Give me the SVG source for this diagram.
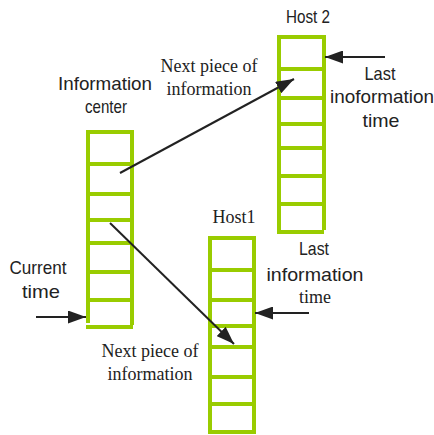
<svg xmlns="http://www.w3.org/2000/svg" width="434" height="435" viewBox="0 0 434 435">
<style>
.stack line{stroke:#99CC00;stroke-width:4;stroke-linecap:butt}
.conn line{stroke:#222;stroke-width:2}
.sans{font-family:"Liberation Sans",Arial,sans-serif;font-size:19px;fill:#222}
.serif{font-family:"Liberation Serif","Times New Roman",serif;font-size:18px;fill:#222}
</style>
<defs>
<marker id="ah" markerUnits="userSpaceOnUse" markerWidth="18" markerHeight="13" refX="18" refY="6.5" orient="auto">
<path d="M0,0 L18,6.5 L0,13 Z" fill="#222"/>
</marker>
</defs>
<rect width="434" height="435" fill="#fff"/>
<g id="info-center" class="stack">
<line x1="88" y1="130" x2="88" y2="323"/>
<line x1="132" y1="130" x2="132" y2="325"/>
<line x1="86" y1="132" x2="134" y2="132"/>
<line x1="86" y1="164" x2="134" y2="164"/>
<line x1="86" y1="194" x2="134" y2="194"/>
<line x1="86" y1="220" x2="134" y2="220"/>
<line x1="86" y1="243" x2="134" y2="243"/>
<line x1="86" y1="272" x2="134" y2="272"/>
<line x1="86" y1="300" x2="134" y2="300"/>
<line x1="86" y1="327" x2="133" y2="327"/>
</g>
<g id="host2" class="stack">
<line x1="279" y1="35" x2="279" y2="230"/>
<line x1="324" y1="35" x2="324" y2="230"/>
<line x1="277" y1="37" x2="326" y2="37"/>
<line x1="277" y1="69" x2="326" y2="69"/>
<line x1="277" y1="98" x2="326" y2="98"/>
<line x1="277" y1="124" x2="326" y2="124"/>
<line x1="277" y1="148" x2="326" y2="148"/>
<line x1="277" y1="176" x2="326" y2="176"/>
<line x1="277" y1="204" x2="326" y2="204"/>
<line x1="277" y1="232" x2="324" y2="232"/>
</g>
<g id="host1" class="stack">
<line x1="210" y1="236" x2="210" y2="434"/>
<line x1="254" y1="236" x2="254" y2="434"/>
<line x1="208" y1="238" x2="256" y2="238"/>
<line x1="208" y1="270" x2="256" y2="270"/>
<line x1="208" y1="300" x2="256" y2="300"/>
<line x1="208" y1="326" x2="256" y2="326"/>
<line x1="208" y1="347" x2="256" y2="347"/>
<line x1="208" y1="377" x2="256" y2="377"/>
<line x1="208" y1="404" x2="256" y2="404"/>
<line x1="208" y1="432" x2="256" y2="432"/>
</g>
<g id="connectors" class="conn">
<line x1="120" y1="173" x2="294" y2="79" marker-end="url(#ah)"/>
<line x1="110" y1="223" x2="234" y2="344" marker-end="url(#ah)"/>
<line x1="385" y1="57" x2="325" y2="57" marker-end="url(#ah)"/>
<line x1="309" y1="313" x2="255" y2="313" marker-end="url(#ah)"/>
<line x1="36" y1="317" x2="86" y2="317" marker-end="url(#ah)"/>
</g>
<g id="labels">
<text class="sans" x="105" y="90" text-anchor="middle" textLength="94" lengthAdjust="spacingAndGlyphs">Information</text>
<text class="sans" x="106" y="113" text-anchor="middle" textLength="42" lengthAdjust="spacingAndGlyphs">center</text>
<text class="sans" x="308" y="23" text-anchor="middle" textLength="44" lengthAdjust="spacingAndGlyphs">Host 2</text>
<text class="sans" x="380" y="80" text-anchor="middle" textLength="31" lengthAdjust="spacingAndGlyphs">Last</text>
<text class="sans" x="382" y="103" text-anchor="middle" textLength="104" lengthAdjust="spacingAndGlyphs">inoformation</text>
<text class="sans" x="381" y="127" text-anchor="middle" textLength="37" lengthAdjust="spacingAndGlyphs">time</text>
<text class="sans" x="314" y="255" text-anchor="middle" textLength="30" lengthAdjust="spacingAndGlyphs">Last</text>
<text class="sans" x="315" y="281" text-anchor="middle" textLength="97" lengthAdjust="spacingAndGlyphs">information</text>
<text class="serif" x="315" y="303" text-anchor="middle">time</text>
<text class="sans" x="38" y="274" text-anchor="middle" textLength="57" lengthAdjust="spacingAndGlyphs">Current</text>
<text class="sans" x="41" y="298" text-anchor="middle" textLength="38" lengthAdjust="spacingAndGlyphs">time</text>
<text class="serif" x="209" y="72" text-anchor="middle">Next piece of</text>
<text class="serif" x="209" y="95" text-anchor="middle">information</text>
<text class="serif" x="150" y="357" text-anchor="middle">Next piece of</text>
<text class="serif" x="150" y="380" text-anchor="middle">information</text>
<text class="serif" x="234" y="223" text-anchor="middle">Host1</text>
</g>
</svg>
